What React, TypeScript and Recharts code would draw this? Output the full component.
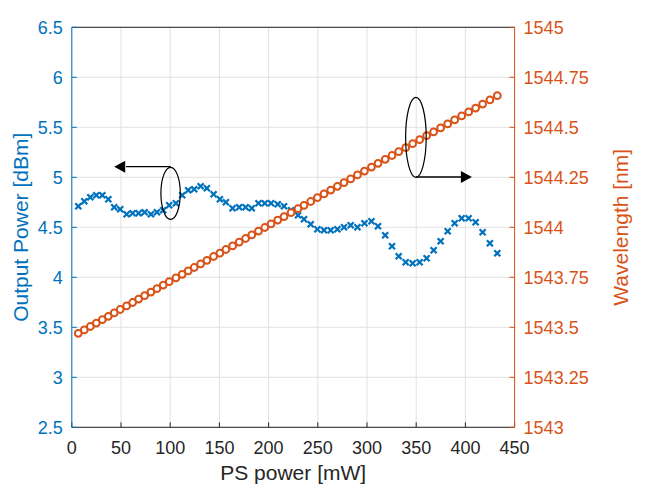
import React from 'react';
import {
  ComposedChart, Scatter, XAxis, YAxis, CartesianGrid,
  ReferenceDot, ReferenceLine,
} from 'recharts';

// PS power [mW] at each calibration step
const psPower = [
  6.6, 12.7, 18.8, 24.9, 31.0, 37.1, 43.1, 49.2, 55.7, 61.8,
  67.9, 74.0, 80.4, 86.5, 92.9, 99.0, 105.8, 112.2, 118.3, 124.4,
  130.9, 137.3, 144.1, 150.5, 156.6, 163.4, 170.1, 176.6, 182.9, 189.7,
  196.1, 202.5, 209.3, 215.7, 222.8, 229.9, 236.0, 242.8, 249.6, 256.3,
  263.1, 269.9, 276.6, 283.4, 290.3, 297.4, 304.5, 311.2, 318.5, 325.4,
  332.2, 339.3, 346.4, 353.5, 360.6, 367.7, 374.8, 382.0, 389.1, 396.2,
  403.3, 410.4, 417.5, 424.9, 432.4,
];

// Output power [dBm]
const outputPower = [
  4.71, 4.76, 4.80, 4.82, 4.82, 4.78, 4.70, 4.68, 4.63, 4.64,
  4.64, 4.65, 4.63, 4.65, 4.67, 4.72, 4.74, 4.82, 4.87, 4.88,
  4.91, 4.89, 4.83, 4.78, 4.75, 4.69, 4.70, 4.70, 4.69, 4.74,
  4.74, 4.74, 4.73, 4.71, 4.67, 4.62, 4.58, 4.53, 4.48, 4.47,
  4.47, 4.48, 4.50, 4.52, 4.50, 4.54, 4.56, 4.51, 4.42, 4.31,
  4.21, 4.15, 4.14, 4.15, 4.19, 4.27, 4.36, 4.46, 4.54, 4.59,
  4.59, 4.55, 4.45, 4.34, 4.24,
];

// Wavelength [nm]
const wavelength = [
  1543.470, 1543.487, 1543.504, 1543.521, 1543.538, 1543.555, 1543.572, 1543.589, 1543.607, 1543.624,
  1543.641, 1543.658, 1543.676, 1543.693, 1543.711, 1543.728, 1543.747, 1543.765, 1543.782, 1543.799,
  1543.817, 1543.835, 1543.854, 1543.871, 1543.889, 1543.907, 1543.926, 1543.944, 1543.962, 1543.981,
  1543.999, 1544.017, 1544.036, 1544.053, 1544.073, 1544.093, 1544.110, 1544.129, 1544.148, 1544.167,
  1544.186, 1544.205, 1544.223, 1544.242, 1544.262, 1544.281, 1544.301, 1544.320, 1544.340, 1544.359,
  1544.378, 1544.398, 1544.418, 1544.438, 1544.458, 1544.477, 1544.497, 1544.517, 1544.537, 1544.557,
  1544.577, 1544.596, 1544.616, 1544.637, 1544.658,
];

const xTicks = [0, 50, 100, 150, 200, 250, 300, 350, 400, 450];
const leftTicks = [2.5, 3, 3.5, 4, 4.5, 5, 5.5, 6, 6.5];
const rightTicks = [1543, 1543.25, 1543.5, 1543.75, 1544, 1544.25, 1544.5, 1544.75, 1545];

const BLUE = '#0072BD';
const ORANGE = '#D95319';
const DARK = '#262626';
const FONT = '"Liberation Sans", Arial, Helvetica, sans-serif';

const powerData = psPower.map((p, i) => ({ p, out: outputPower[i] }));
const wlData = psPower.map((p, i) => ({ p, wl: wavelength[i] }));

const XMark = (props: any) => {
  const { cx, cy } = props;
  const s = 3;
  return (
    <g stroke={BLUE} strokeWidth={2.3}>
      <line x1={cx - s} y1={cy - s} x2={cx + s} y2={cy + s} />
      <line x1={cx - s} y1={cy + s} x2={cx + s} y2={cy - s} />
    </g>
  );
};

const Circle = (props: any) => {
  const { cx, cy } = props;
  return <circle cx={cx} cy={cy} r={3.4} fill="#fff" stroke={ORANGE} strokeWidth={2} />;
};

const ellipse = (rx: number, ry: number) => (props: any) => (
  <ellipse cx={props.cx} cy={props.cy} rx={rx} ry={ry} fill="none" stroke="#000" strokeWidth={1.2} />
);

const arrowHead = (dir: number) => (props: any) => {
  const { cx, cy } = props;
  const len = 11;
  const half = 6;
  return (
    <polygon
      points={`${cx},${cy} ${cx - dir * len},${cy - half} ${cx - dir * len},${cy + half}`}
      fill="#000"
    />
  );
};

const tickStyle = { fontSize: 18, fontFamily: FONT };

export default function App() {
  return (
    <div style={{ position: 'absolute', left: 0, top: 0, width: 646, height: 488, background: '#fff' }}>
      <ComposedChart width={646} height={488} margin={{ top: 27.3, right: 0, bottom: 0, left: 0 }}>
        <CartesianGrid yAxisId="left" stroke="#e1e1e1" />
        <XAxis
          dataKey="p"
          type="number"
          domain={[0, 450]}
          ticks={xTicks}
          allowDataOverflow
          height={60.7}
          stroke={DARK}
          tickSize={-5}
          tickMargin={19}
          tick={{ ...tickStyle, fill: DARK }}
          label={(props: any) => {
            const vb = props.viewBox;
            return (
              <text x={vb.x + vb.width / 2} y={480} textAnchor="middle" fontSize={21} fontFamily={FONT} fill={DARK}>
                PS power [mW]
              </text>
            );
          }}
        />
        <XAxis
          xAxisId="top"
          orientation="top"
          dataKey="p"
          type="number"
          domain={[0, 450]}
          ticks={xTicks}
          allowDataOverflow
          height={0}
          stroke={DARK}
          tickSize={-5}
          tick={() => <g />}
          label={(props: any) => {
            const vb = props.viewBox;
            return (
              <text x={vb.x + vb.width / 2} y={20} textAnchor="middle" fontSize={19} fontWeight="bold" fontFamily={FONT} fill="#000">
                Calibration results
              </text>
            );
          }}
        />
        <YAxis
          yAxisId="left"
          type="number"
          domain={[2.5, 6.5]}
          ticks={leftTicks}
          allowDataOverflow
          width={71.8}
          stroke={BLUE}
          tickSize={-5}
          tickMargin={14}
          tick={{ ...tickStyle, fill: BLUE }}
          label={(props: any) => {
            const vb = props.viewBox;
            const cx = 21;
            const cy = vb.y + vb.height / 2;
            return (
              <text x={cx} y={cy} dy="0.35em" textAnchor="middle" transform={`rotate(-90 ${cx} ${cy})`}
                fontSize={21} fontFamily={FONT} fill={BLUE}>
                Output Power [dBm]
              </text>
            );
          }}
        />
        <YAxis
          yAxisId="right"
          orientation="right"
          type="number"
          domain={[1543, 1545]}
          ticks={rightTicks}
          allowDataOverflow
          width={131.4}
          stroke={ORANGE}
          tickSize={-5}
          tickMargin={14}
          tick={{ ...tickStyle, fill: ORANGE }}
          label={(props: any) => {
            const vb = props.viewBox;
            const cx = 621;
            const cy = vb.y + vb.height / 2;
            return (
              <text x={cx} y={cy} dy="0.35em" textAnchor="middle" transform={`rotate(-90 ${cx} ${cy})`}
                fontSize={21} fontFamily={FONT} fill={ORANGE}>
                Wavelength [nm]
              </text>
            );
          }}
        />
        <ReferenceLine yAxisId="left" y={6.5} stroke={DARK} strokeWidth={1} />
        <Scatter data={powerData} dataKey="out" yAxisId="left" shape={XMark} isAnimationActive={false} />
        <Scatter data={wlData} dataKey="wl" yAxisId="right" shape={Circle} isAnimationActive={false} />

        {/* annotation: left ellipse + arrow to the left axis */}
        <ReferenceDot yAxisId="left" x={100.4} y={4.84} shape={ellipse(9.7, 26)} />
        <ReferenceLine yAxisId="left" segment={[{ x: 100.4, y: 5.106 }, { x: 55, y: 5.106 }]} stroke="#000" strokeWidth={1.3} />
        <ReferenceDot yAxisId="left" x={43.1} y={5.106} shape={arrowHead(-1)} />

        {/* annotation: right ellipse + arrow to the right axis */}
        <ReferenceDot yAxisId="right" x={349.7} y={1544.45} shape={ellipse(10.3, 40)} />
        <ReferenceLine yAxisId="right" segment={[{ x: 349.7, y: 1544.2515 }, { x: 396, y: 1544.2515 }]} stroke="#000" strokeWidth={1.3} />
        <ReferenceDot yAxisId="right" x={406.6} y={1544.2515} shape={arrowHead(1)} />
      </ComposedChart>
    </div>
  );
}
